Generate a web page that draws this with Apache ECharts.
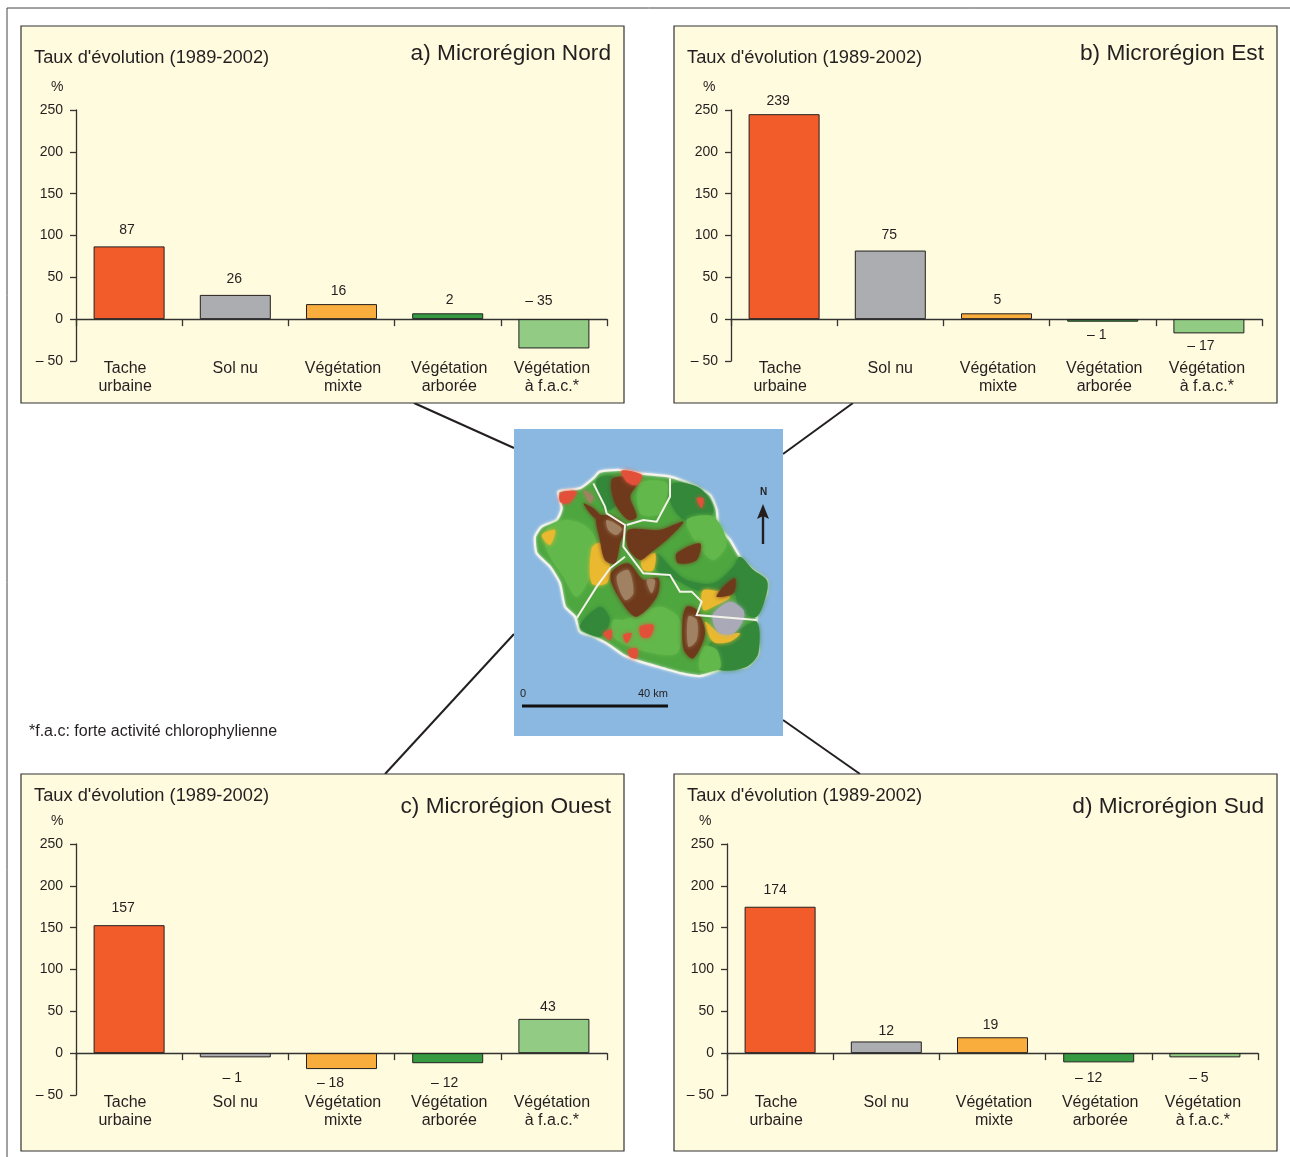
<!DOCTYPE html>
<html lang="fr">
<head>
<meta charset="utf-8">
<title>Taux d'évolution (1989-2002)</title>
<style>html,body{margin:0;padding:0;background:#fff}#chart{width:1290px;height:1157px}</style>
<script src="https://cdn.jsdelivr.net/npm/echarts@6/dist/echarts.min.js"></script>
</head>
<body>
<div id="chart"></div>
<script>
// ---------- data ----------
const categories = ['Tache\nurbaine', 'Sol nu', 'Végétation\nmixte', 'Végétation\narborée', 'Végétation\nà f.a.c.*'];
const yTicks = [-50, 0, 50, 100, 150, 200, 250];

// bar heights as drawn
const nordBars  = [87, 29, 18, 7, -35];
const estBars   = [245, 82, 7, -3, -17];
const ouestBars = [153, -5, -19, -12, 41];
const sudBars   = [175, 14, 19, -11, -5];

// values as printed above / below the bars
const nordPrinted  = ['87', '26', '16', '2', '– 35'];
const estPrinted   = ['239', '75', '5', '– 1', '– 17'];
const ouestPrinted = ['157', '– 1', '– 18', '– 12', '43'];
const sudPrinted   = ['174', '12', '19', '– 12', '– 5'];

const barColors = ['#f25c2b', '#acadb0', '#f8ad3c', '#359a41', '#92cc84'];

// ---------- layout ----------
const FONT = '"Liberation Sans", Arial, sans-serif';
const INK = '#231f20';
const panels = [
  { bars: nordBars, printed: nordPrinted, title: 'a) Microrégion Nord', box: [21, 26], axisX: 76, endX: 607, top: 110, headY: 57, nameY: 52, pctX: 57, pctY: 86,
    nudge: [['t',-2,-9],['t',-1,-9],['t',-3,-6],['t',2,-6],['t',-15,-11]] },
  { bars: estBars, printed: estPrinted, title: 'b) Microrégion Est', box: [674, 26], axisX: 731, endX: 1262, top: 110, headY: 57, nameY: 52, pctX: 709, pctY: 86,
    nudge: [['t',-6,-6],['t',-1,-8],['t',1,-6],['b',-6,6],['b',-8,6]] },
  { bars: ouestBars, printed: ouestPrinted, title: 'c) Microrégion Ouest', box: [21, 774], axisX: 76, endX: 607, top: 844, headY: 795, nameY: 805, pctX: 57, pctY: 820,
    nudge: [['t',-6,-10],['b',-3,14],['b',-11,7],['b',-3,13],['t',-6,-5]] },
  { bars: sudBars, printed: sudPrinted, title: 'd) Microrégion Sud', box: [674, 774], axisX: 727, endX: 1258, top: 844, headY: 795, nameY: 805, pctX: 705, pctY: 820,
    nudge: [['t',-5,-10],['t',0,-3],['t',-2,-5],['b',-10,9],['b',-6,14]] }
];
const panelW = 603, panelH = 377, plotH = 251;

// category labels sit slightly off their band centres in the picture
const catStyle = { fontFamily: FONT, fontSize: 16, lineHeight: 18, color: INK };
const catRich = {
  c0: { ...catStyle, padding: [0, 8, 0, 0] },
  c1: { ...catStyle },
  c2: { ...catStyle, padding: [0, 0, 0, 3] },
  c3: { ...catStyle, padding: [0, 0, 0, 3] },
  c4: { ...catStyle, padding: [0, 4, 0, 0] }
};

// ---------- the central map (illustration, in zoom coordinates of the picture) ----------
const mp = pts => pts.map(p => [500 + p[0] / 3, 420 + p[1] / 3]);
const islandOutline = [[280,175],[300,155],[360,150],[420,160],[510,170],[580,195],[630,225],[650,270],[655,320],[690,360],[720,410],[760,450],[800,480],[800,520],[770,590],[775,700],[740,740],[660,750],[600,768],[545,760],[490,745],[420,725],[370,705],[320,670],[280,650],[240,635],[225,590],[195,560],[180,490],[150,440],[110,400],[105,350],[125,320],[170,300],[185,265],[175,215],[240,205]];
const darkGreen = [
  [[470,400],[520,450],[560,480],[640,490],[700,440],[720,410],[760,450],[800,480],[800,520],[770,590],[720,570],[700,510],[650,510],[590,510],[530,480],[470,450]],
  [[640,660],[700,640],[770,605],[775,700],[740,740],[660,750],[620,700]],
  [[520,190],[600,205],[640,270],[600,320],[540,290],[510,240]],
  [[290,180],[340,170],[360,240],[320,270]],
  [[240,620],[300,560],[330,600],[300,650]]
];
const lightGreen = [
  [[130,340],[190,300],[260,320],[290,370],[270,470],[230,530],[190,470],[150,410]],
  [[560,300],[640,290],[680,370],[640,420],[590,370]],
  [[340,600],[370,600],[480,560],[540,600],[530,700],[420,690],[340,650]],
  [[420,190],[500,190],[480,280],[420,280]],
  [[610,680],[650,690],[660,745],[600,750]]
];
const brown = [
  [[290,290],[340,290],[375,320],[360,370],[345,430],[315,420],[300,360]],
  [[385,330],[480,330],[550,305],[510,350],[450,400],[420,420],[385,385]],
  [[530,400],[600,370],[590,420],[535,430]],
  [[335,455],[385,430],[430,480],[475,475],[470,530],[410,590],[375,560],[335,490]],
  [[335,180],[370,170],[410,190],[390,230],[410,290],[385,300],[345,250]],
  [[560,560],[590,570],[615,640],[580,715],[552,690],[548,600]],
  [[670,500],[705,475],[700,520],[650,530]],
  [[250,250],[280,265],[310,300],[285,295]]
];
const tan = [
  [[320,300],[365,325],[350,345],[325,330]],
  [[350,470],[385,450],[400,520],[375,540]],
  [[565,590],[590,600],[590,660],[565,680]],
  [[440,480],[465,480],[455,520]],
  [[250,210],[280,230],[270,250]]
];
const yellow = [
  [[275,385],[300,370],[330,440],[320,490],[275,490]],
  [[425,420],[465,400],[460,450],[430,450]],
  [[610,510],[690,530],[640,560],[610,570]],
  [[615,605],[660,640],[720,640],[690,665],[640,665]],
  [[125,345],[165,330],[150,375]]
];
const grey = [[[640,580],[690,545],[730,570],[730,600],[700,640],[660,640],[640,610]]];
const red = [
  [[182,218],[230,215],[205,250],[180,245]],
  [[365,152],[425,165],[410,195],[380,185]],
  [[420,620],[460,615],[450,650],[425,650]],
  [[310,640],[335,630],[330,660]],
  [[385,690],[410,685],[410,715],[390,710]],
  [[590,235],[610,235],[605,265]],
  [[370,645],[395,640],[380,670]]
];
const borders = [
  [[280,190],[315,260],[320,280],[375,315],[370,380],[430,460],[510,465],[540,515],[575,515],[605,545],[590,585],[770,600]],
  [[380,315],[430,300],[470,305],[510,230],[510,175]],
  [[375,410],[330,445],[290,500],[230,595]]
];
const connectors = [[414,403,514,448],[853,403,783,454],[514,634,385,774],[783,720,860,774]];

function polys(list, fill, z) {
  return list.map(p => ({ type: 'polygon', silent: true, z, shape: { points: mp(p), smooth: 0.3 }, style: { fill, shadowBlur: 4, shadowColor: fill } }));
}

const graphics = [
  // sheet frame
  { type: 'polyline', silent: true, z: -20, shape: { points: [[7,1157],[7,8],[1290,8]] }, style: { stroke: '#444', lineWidth: 1, fill: null } },
  // connectors
  ...connectors.map(c => ({ type: 'line', silent: true, z: -19, shape: { x1: c[0], y1: c[1], x2: c[2], y2: c[3] }, style: { stroke: INK, lineWidth: 2 } })),
  // chart boxes
  ...panels.map(p => ({ type: 'rect', silent: true, z: -10, shape: { x: p.box[0], y: p.box[1], width: panelW, height: panelH }, style: { fill: '#fffbde', stroke: '#333', lineWidth: 1.2 } })),
  // map
  { type: 'rect', silent: true, z: -9, shape: { x: 514, y: 429, width: 269, height: 307 }, style: { fill: '#8bb8e0' } },
  { type: 'polygon', silent: true, z: -8, shape: { points: mp(islandOutline), smooth: 0.2 }, style: { fill: '#4ea63f', stroke: '#f4f4ea', lineWidth: 2.2, shadowBlur: 3, shadowColor: '#dfeaf2' } },
  ...polys(darkGreen, '#34883a', -7),
  ...polys(lightGreen, '#62b84a', -7),
  ...polys(yellow, '#eab92f', -6),
  ...polys(brown, '#6f3a1c', -6),
  ...polys(tan, '#a08262', -6),
  ...polys(grey, '#a9a9b8', -6),
  ...polys(red, '#e2503a', -6),
  ...borders.map(b => ({ type: 'polyline', silent: true, z: -5, shape: { points: mp(b) }, style: { stroke: '#f2f2e8', lineWidth: 2, fill: null } })),
  { type: 'line', silent: true, z: -5, shape: { x1: 522, y1: 706, x2: 668, y2: 706 }, style: { stroke: '#111', lineWidth: 3 } },
  { type: 'text', silent: true, z: -5, x: 520, y: 688, style: { text: '0', font: '11px ' + FONT, fill: INK } },
  { type: 'text', silent: true, z: -5, x: 638, y: 688, style: { text: '40 km', font: '11px ' + FONT, fill: INK } },
  { type: 'text', silent: true, z: -5, x: 760, y: 487, style: { text: 'N', font: 'bold 10px ' + FONT, fill: INK } },
  { type: 'line', silent: true, z: -5, shape: { x1: 763, y1: 544, x2: 763, y2: 512 }, style: { stroke: INK, lineWidth: 2.4 } },
  { type: 'polygon', silent: true, z: -5, shape: { points: [[763,504],[769,519],[763,516],[757,519]] }, style: { fill: INK } },
  // footnote
  { type: 'text', silent: true, x: 29, y: 724, style: { text: '*f.a.c: forte activité chlorophylienne', font: '16px ' + FONT, fill: INK } }
];

// ---------- option built from the arrays ----------
const option = {
  animation: false,
  backgroundColor: '#fff',
  textStyle: { fontFamily: FONT },
  graphic: { elements: graphics },
  title: panels.flatMap(p => [
    { text: 'Taux d\'évolution (1989-2002)', left: p.box[0] + 13, top: p.headY - 8, padding: 0, textStyle: { fontFamily: FONT, fontSize: 18.3, fontWeight: 'normal', color: INK } },
    { text: p.title, right: 1290 - (p.box[0] + 590), top: p.nameY - 10, padding: 0, textStyle: { fontFamily: FONT, fontSize: 22.7, fontWeight: 'normal', color: INK } },
    { text: '%', left: p.pctX - 6, top: p.pctY - 6, padding: 0, textStyle: { fontFamily: FONT, fontSize: 14, fontWeight: 'normal', color: INK } }
  ]),
  grid: panels.map(p => ({ left: p.axisX, width: p.endX - p.axisX, top: p.top, height: plotH, containLabel: false, outerBoundsMode: 'none' })),
  xAxis: panels.map((p, i) => ({
    type: 'category', gridIndex: i, data: categories,
    axisLine: { onZero: true, lineStyle: { color: '#333', width: 1.3 } },
    axisTick: { show: true, inside: false, length: 7, alignWithLabel: false, lineStyle: { color: '#333', width: 1.3 } },
    axisLabel: {
      interval: 0, margin: -1, fontFamily: FONT, fontSize: 16, lineHeight: 18, color: INK,
      formatter: (v, k) => v.split('\n').map(l => '{c' + k + '|' + l + '}').join('\n'),
      rich: catRich
    }
  })),
  yAxis: panels.map((p, i) => ({
    type: 'value', gridIndex: i, min: yTicks[0], max: yTicks[yTicks.length - 1], interval: 50,
    splitLine: { show: false },
    axisLine: { show: true, onZero: false, lineStyle: { color: '#333', width: 1.3 } },
    axisTick: { show: true, length: 6, lineStyle: { color: '#333', width: 1.3 } },
    axisLabel: { margin: 13, padding: [3, 0, 0, 0], fontFamily: FONT, fontSize: 14, color: INK, formatter: v => v < 0 ? '– ' + Math.abs(v) : String(v) }
  })),
  series: panels.map((p, i) => ({
    type: 'bar', xAxisIndex: i, yAxisIndex: i, barWidth: 71,
    data: p.bars.map((v, j) => ({
      value: v,
      itemStyle: { color: barColors[j], borderColor: INK, borderWidth: 1 },
      label: {
        show: true, formatter: p.printed[j], color: INK, fontFamily: FONT, fontSize: 14, distance: 0,
        position: p.nudge[j][0] === 't' ? 'top' : 'bottom',
        offset: [p.nudge[j][1], p.nudge[j][2]]
      }
    }))
  }))
};

echarts.init(document.getElementById('chart'), null, { renderer: 'canvas' }).setOption(option);
</script>
</body>
</html>
